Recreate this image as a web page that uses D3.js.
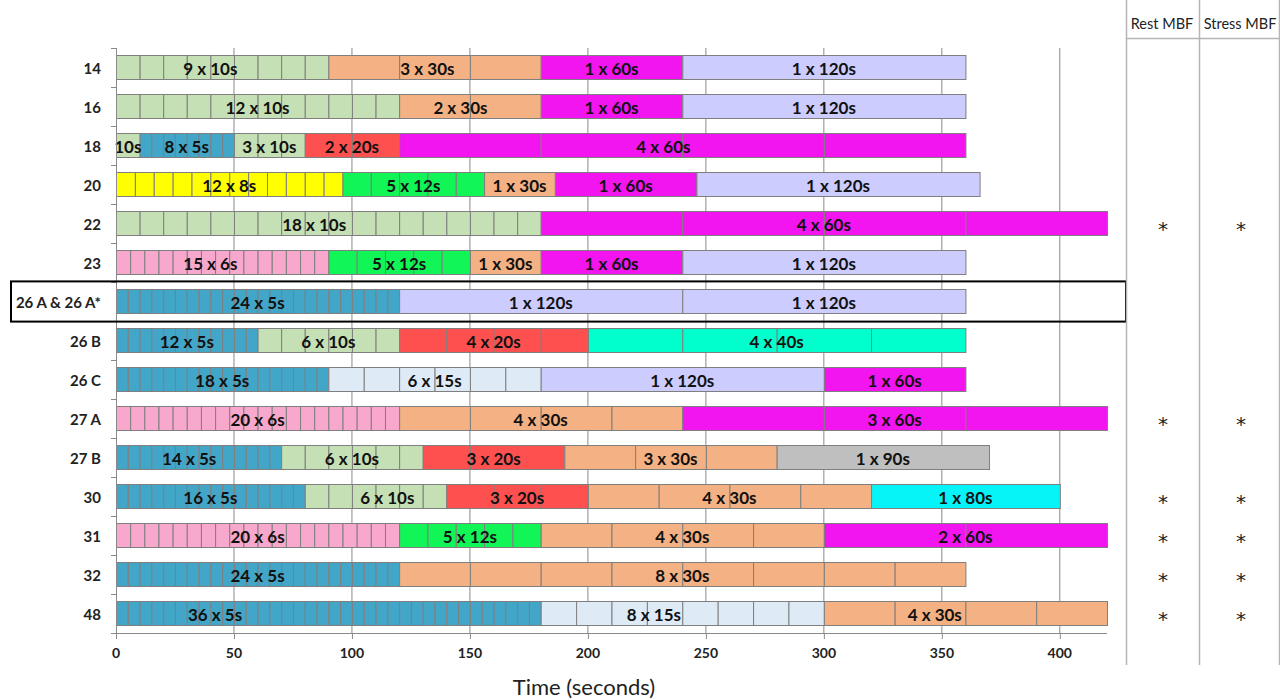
<!DOCTYPE html>
<html>
<head>
<meta charset="utf-8">
<script src="https://cdn.jsdelivr.net/npm/d3@7"></script>
<style>
  html, body { margin: 0; padding: 0; background: #fff; }
  svg { display: block; }
</style>
</head>
<body>
<svg id="chart" width="1280" height="700"></svg>
<script>
// ---------- data ----------
const rows = ["14","16","18","20","22","23","26 A & 26 A*","26 B","26 C","27 A","27 B","30","31","32","48"];

// each group: [count, duration(s), label, labelAt(s, optional)]
const p14  = [[9,10,"9 x 10s",40],[3,30,"3 x 30s",132],[1,60,"1 x 60s"],[1,120,"1 x 120s"]];
const p16  = [[12,10,"12 x 10s"],[2,30,"2 x 30s",146],[1,60,"1 x 60s"],[1,120,"1 x 120s"]];
const p18  = [[1,10,"10s"],[8,5,"8 x 5s"],[3,10,"3 x 10s"],[2,20,"2 x 20s"],[4,60,"4 x 60s",232]];
const p20  = [[12,8,"12 x 8s"],[5,12,"5 x 12s"],[1,30,"1 x 30s"],[1,60,"1 x 60s"],[1,120,"1 x 120s"]];
const p22  = [[18,10,"18 x 10s",84],[4,60,"4 x 60s"]];
const p23  = [[15,6,"15 x 6s",40],[5,12,"5 x 12s"],[1,30,"1 x 30s"],[1,60,"1 x 60s"],[1,120,"1 x 120s"]];
const p26A = [[24,5,"24 x 5s"],[1,120,"1 x 120s"],[1,120,"1 x 120s"]];
const p26B = [[12,5,"12 x 5s"],[6,10,"6 x 10s"],[4,20,"4 x 20s"],[4,40,"4 x 40s"]];
const p26C = [[18,5,"18 x 5s"],[6,15,"6 x 15s"],[1,120,"1 x 120s"],[1,60,"1 x 60s"]];
const p27A = [[20,6,"20 x 6s"],[4,30,"4 x 30s"],[3,60,"3 x 60s"]];
const p27B = [[14,5,"14 x 5s",31],[6,10,"6 x 10s"],[3,20,"3 x 20s"],[3,30,"3 x 30s"],[1,90,"1 x 90s"]];
const p30  = [[16,5,"16 x 5s"],[6,10,"6 x 10s",115],[3,20,"3 x 20s"],[4,30,"4 x 30s"],[1,80,"1 x 80s"]];
const p31  = [[20,6,"20 x 6s"],[5,12,"5 x 12s"],[4,30,"4 x 30s"],[2,60,"2 x 60s"]];
const p32  = [[24,5,"24 x 5s"],[8,30,"8 x 30s"]];
const p48  = [[36,5,"36 x 5s",42],[8,15,"8 x 15s",228],[4,30,"4 x 30s",347]];
const protocols = [p14,p16,p18,p20,p22,p23,p26A,p26B,p26C,p27A,p27B,p30,p31,p32,p48];

const durations = [5,6,8,10,12,15,20,30,40,60,80,90,120];
const durColors = ["#42a6c8","#f8a8cc","#ffff00","#c5e0b4","#12f557","#deebf7","#ff5050","#f4b183","#00ffcc","#f215ef","#06f4f7","#bfbfbf","#ccccff"];

const xTicks = [0,50,100,150,200,250,300,350,400];
const restMBF   = ["22","27 A","30","31","32","48"];
const stressMBF = ["22","27 A","30","31","32","48"];
const highlighted = "26 A & 26 A*";

// ---------- layout ----------
const svg = d3.select("#chart");
const x = d3.scaleLinear().domain([0,420]).range([116,1107]);
const y = d3.scaleBand().domain(rows).range([48,633]).paddingInner(0.38).paddingOuter(0.19);
const color = d3.scaleOrdinal().domain(durations).range(durColors);
const font = "Lato, 'Open Sans', sans-serif";
const gridColor = "#8a8a8a";

// gridlines
svg.append("g").selectAll("line").data(xTicks.filter(d => d > 0)).join("line")
  .attr("x1", d => x(d)).attr("x2", d => x(d))
  .attr("y1", 48).attr("y2", 633)
  .attr("stroke", gridColor).attr("stroke-width", 1);

// bars
const segs = [], labels = [];
protocols.forEach((groups, i) => {
  let t = 0;
  groups.forEach(g => {
    const [n, d, lab, at] = g;
    const start = t;
    for (let k = 0; k < n; k++) {
      segs.push({row: rows[i], t0: t, t1: t + d, dur: d});
      t += d;
    }
    labels.push({row: rows[i], text: lab, at: at !== undefined ? at : (start + t) / 2});
  });
});

svg.append("g").selectAll("rect").data(segs).join("rect")
  .attr("x", d => x(d.t0) + 0.5)
  .attr("y", d => Math.round(y(d.row)) + 0.5)
  .attr("width", d => x(d.t1) - x(d.t0))
  .attr("height", Math.round(y.bandwidth()))
  .attr("fill", d => color(d.dur))
  .attr("stroke", "#7f7f7f").attr("stroke-width", 1);

svg.append("g").selectAll("text").data(labels).join("text")
  .attr("x", d => x(d.at))
  .attr("y", d => y(d.row) + y.bandwidth() / 2 + 1)
  .attr("text-anchor", "middle").attr("dominant-baseline", "central")
  .attr("font-family", font).attr("font-weight", "bold").attr("font-size", 17)
  .attr("fill", "#111").text(d => d.text);

// y axis
svg.append("line").attr("x1", 116.5).attr("x2", 116.5).attr("y1", 48).attr("y2", 633)
  .attr("stroke", gridColor);
const yTickPos = d3.range(rows.length + 1).map(k => 48 + k * y.step());
svg.append("g").selectAll("line").data(yTickPos).join("line")
  .attr("x1", 111).attr("x2", 116).attr("y1", d => Math.round(d) + 0.5).attr("y2", d => Math.round(d) + 0.5)
  .attr("stroke", gridColor);
svg.append("g").selectAll("text").data(rows).join("text")
  .attr("x", 101).attr("y", d => y(d) + y.bandwidth() / 2)
  .attr("text-anchor", "end").attr("dominant-baseline", "central")
  .attr("font-family", font).attr("font-weight", "bold").attr("font-size", 15)
  .attr("fill", "#222").text(d => d);

// x axis
svg.append("line").attr("x1", 116).attr("x2", 1107).attr("y1", 633.5).attr("y2", 633.5)
  .attr("stroke", gridColor);
svg.append("g").selectAll("line").data(xTicks).join("line")
  .attr("x1", d => x(d) + 0.5).attr("x2", d => x(d) + 0.5).attr("y1", 633).attr("y2", 639)
  .attr("stroke", gridColor);
svg.append("g").selectAll("text").data(xTicks).join("text")
  .attr("x", d => x(d)).attr("y", 652)
  .attr("text-anchor", "middle").attr("dominant-baseline", "central")
  .attr("font-family", font).attr("font-weight", "bold").attr("font-size", 14)
  .attr("fill", "#222").text(d => d);
svg.append("text").attr("x", 584).attr("y", 695)
  .attr("text-anchor", "middle")
  .attr("font-family", font).attr("font-size", 22).attr("fill", "#222")
  .text("Time (seconds)");

// highlight box
svg.append("rect")
  .attr("x", 11).attr("y", y(highlighted) - 8)
  .attr("width", 1115).attr("height", y.bandwidth() + 16)
  .attr("fill", "none").attr("stroke", "#000").attr("stroke-width", 2);

// MBF table
const colLines = [1126.5, 1199.5, 1279.5];
svg.append("g").selectAll("line").data(colLines).join("line")
  .attr("x1", d => d).attr("x2", d => d).attr("y1", 0).attr("y2", 665)
  .attr("stroke", "#b5b5b5").attr("stroke-width", 1.5);
svg.append("line").attr("x1", 1126).attr("x2", 1280).attr("y1", 38.5).attr("y2", 38.5)
  .attr("stroke", "#b5b5b5").attr("stroke-width", 1.5);
const cols = [{name: "Rest MBF", cx: 1162, marks: restMBF}, {name: "Stress MBF", cx: 1240, marks: stressMBF}];
cols.forEach(c => {
  svg.append("text").attr("x", c.cx).attr("y", 23)
    .attr("text-anchor", "middle").attr("dominant-baseline", "central")
    .attr("font-family", font).attr("font-size", 14.5).attr("fill", "#222").text(c.name);
  svg.append("g").selectAll("text").data(c.marks).join("text")
    .attr("x", c.cx + 1).attr("y", d => y(d) + y.bandwidth() / 2 + 5)
    .attr("text-anchor", "middle").attr("dominant-baseline", "central")
    .attr("font-family", "'DejaVu Sans', sans-serif").attr("font-size", 20).attr("fill", "#222").text("*");
});
</script>
</body>
</html>
